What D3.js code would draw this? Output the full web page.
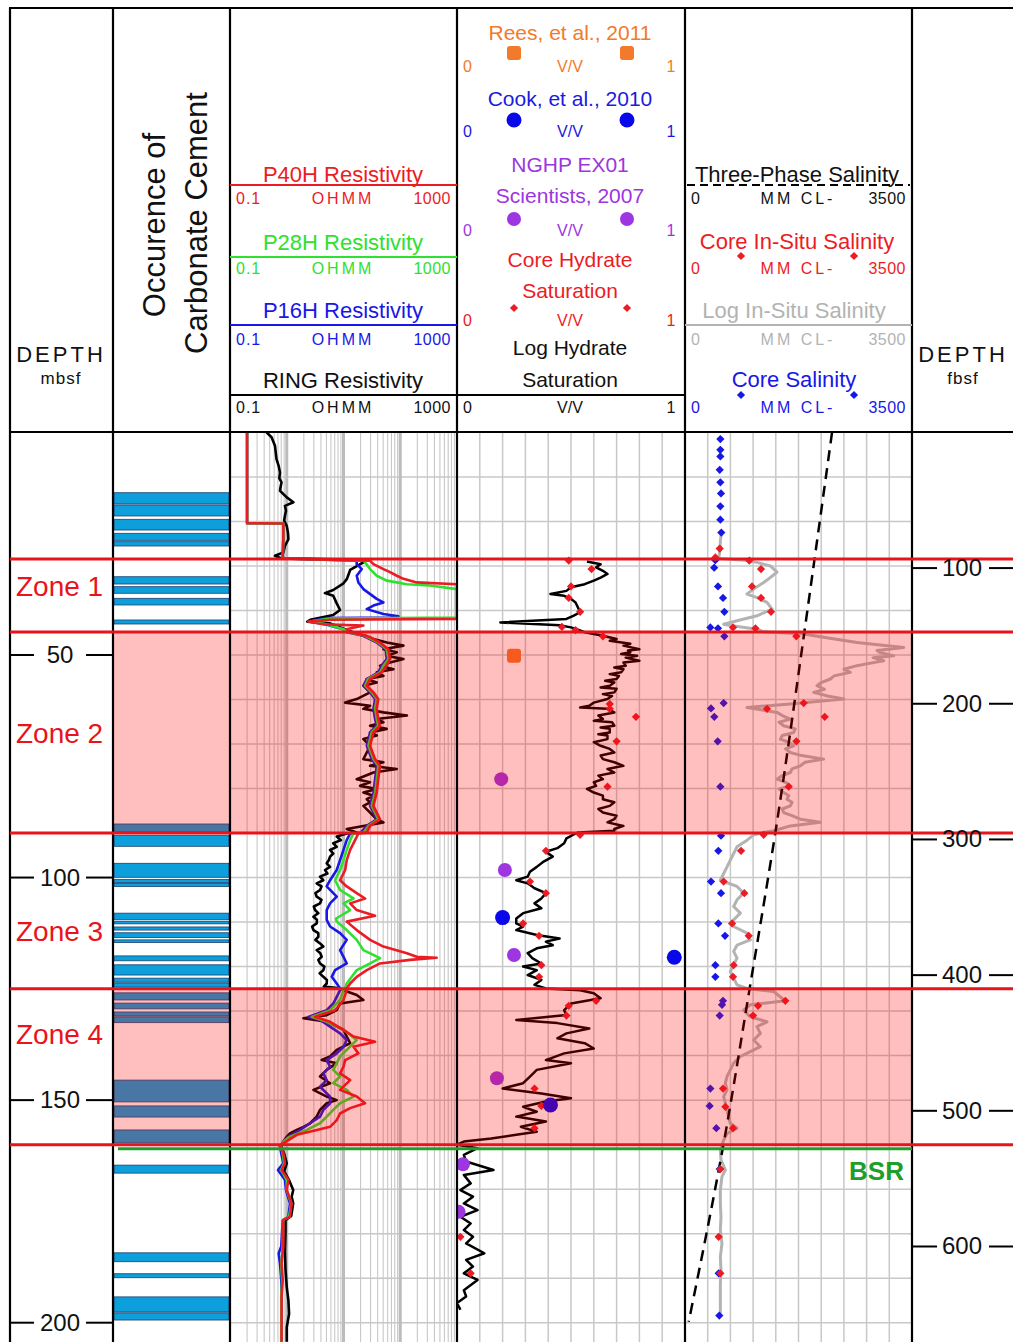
<!DOCTYPE html>
<html><head><meta charset="utf-8">
<script src="https://cdn.jsdelivr.net/npm/d3@7"></script>
<style>body{margin:0;background:#fff}svg{display:block}text{font-family:"Liberation Sans",Arial,sans-serif}</style>
</head><body><svg id="chart" width="1013" height="1342"></svg>
<script>
// ---------------- DATA ----------------
const zoneNames = ["Zone 1","Zone 2","Zone 3","Zone 4"];
const zoneTops = [28.44, 44.84, 89.97, 125.0];
const zoneBases = [44.84, 89.97, 125.0, 160.05];
const bsrDepth = 160.9;
const mbsfTicks = [50,100,150,200];
const fbsfTicks = [100,200,300,400,500,600];

const carbonateTop = [13.55,16.31,19.52,22.67,24.55,32.42,34.66,37.27,42.14,87.97,90.51,96.8,100.4,101.3,108.0,109.9,111.1,112.4,114.0,117.6,119.6,122.6,123.7,125.9,128.2,130.2,131.3,145.5,151.3,156.7,164.6,184.3,189.0,194.2,197.8];
const carbonateBase = [16.08,18.78,21.93,24.24,25.52,34.06,36.14,38.77,43.04,89.77,92.98,99.94,101.1,102.0,109.5,110.4,111.8,113.5,114.6,118.7,121.9,123.5,124.6,127.5,129.5,131.1,132.6,150.4,153.8,159.6,166.4,186.3,189.9,197.6,199.4];

// resistivity [depth m, ohm-m]
const ringRes = [[0,0.44],[1.1,0.54],[3.0,0.62],[6.0,0.66],[7.5,0.72],[9.0,0.76],[10.3,0.74],[11.2,0.81],[12.2,0.78],[13.1,0.76],[14.6,1.0],[15.7,1.31],[16.5,0.93],[17.6,0.97],[18.7,0.93],[19.8,0.9],[21.0,1.0],[22.5,1.05],[24.0,1.07],[25.5,0.93],[27.0,0.87],[27.7,0.62],[28.3,0.8],
[28.6,20],[29.2,22.4],[30.9,13.1],[32.9,11.5],[33.9,10],[35.4,6.6],[36.1,4.7],[36.7,6.6],[38.4,7.6],[39.9,8.7],[41.0,6.6],[42.1,2.6],[42.5,2.3],[42.9,5.8],[44.4,11.4],
[45.7,22.4],[46.4,33.7],[47.2,57.8],[47.9,114],[48.7,50.5],[49.4,87],[50.2,57.8],[50.9,114],[51.7,66],[52.4,44],[53.2,76],[53.9,38.5],[54.7,50.5],[55.4,25.7],[56.2,38.5],[56.9,22.4],[58.4,29.4],[59.9,17.1],[60.7,10.7],[61.4,29.4],[62.1,22.4],[62.9,50.5],[63.6,131],[64.4,38.5],[65.1,50.5],[65.9,29.4],[66.6,57.8],[67.4,29.4],[68.1,38.5],[68.9,22.4],[70.4,29.4],[71.9,25.7],[73.4,22.4],[74.1,50.5],[74.9,29.4],[75.6,87],[76.4,33.7],[77.9,17.1],[78.6,29.4],[79.4,19.6],[80.1,38.5],[80.9,22.4],[81.6,33.7],[82.4,25.7],[83.1,29.4],[83.9,22.4],[85.4,29.4],[86.9,38.5],[87.6,50.5],[88.4,22.4],[89.1,11.4],[89.9,17],
[90.1,11.4],[90.8,7.6],[91.6,9],[92.3,6.6],[93.1,7.6],[93.8,5.8],[94.6,6.6],[95.3,5.8],[96.1,5.5],[96.8,5.06],[97.6,5.8],[98.3,4.73],[99.1,5.2],[99.8,3.86],[100.6,4.4],[101.3,3.37],[102.0,4.1],[102.8,3.86],[103.5,3.2],[104.3,3.37],[105.0,4.1],[105.8,3.86],[106.5,3.0],[107.3,3.15],[108.0,3.6],[108.8,2.95],[109.5,3.4],[110.3,3.37],[111.0,2.8],[111.8,2.95],[112.5,3.6],[113.3,3.61],[114.0,3.2],[114.8,3.86],[115.5,4.4],[116.3,3.37],[117.0,3.9],[117.8,4.13],[118.5,3.6],[119.3,3.86],[120.0,4.6],[120.8,4.42],[121.5,3.8],[122.3,4.42],[123.0,5.1],[123.8,5.06],[124.5,4.5],[124.9,8.7],
[125.3,10],[126.4,17.1],[127.5,22.4],[128.3,8.7],[129.8,7.6],[130.9,5.06],[131.6,1.97],[132.4,5.06],[133.5,7.6],[134.2,10],[135.7,11.4],[137.2,13.1],[138.7,7.6],[140.2,5.8],[141.0,4.13],[141.7,7.6],[143.2,5.06],[144.7,3.86],[146.2,5.8],[147.7,2.95],[149.2,5.06],[150.0,7.6],[150.7,5.06],[152.2,3.86],[153.7,3.37],[155.2,2.58],[156.0,1.97],[156.7,1.5],[157.5,1.14],[158.2,1.0],[159.3,0.87],
[160.4,0.8],[162,0.9],[164.2,1.0],[166,0.9],[168,1.1],[170.2,1.3],[171.7,1.22],[173.2,1.3],[176,1.2],[177,0.95],[180,0.95],[184,0.93],[188,0.95],[192,1.0],[195,1.07],[198,1.1],[201,1.0],[204.3,1.0]];

const p16hRes = [[0,0.2],[20.4,0.2],[20.45,0.87],[24,0.87],[28.3,0.85],
[28.8,17],[29.6,17.1],[30.7,21],[32.2,17.1],[33.7,18.3],[35.2,22.4],[37.4,38.5],[38.2,50.5],[38.9,33.7],[39.7,25.7],[40.8,50.5],[41.3,93],[41.6,93],[41.7,5.06],[42.5,2.4],[43.1,4.73],[44.2,10],[44.9,11.4],
[45.7,22.4],[47.2,38.5],[48.7,55],[50.9,57.8],[52.4,47],[53.9,41],[55.4,25.7],[56.9,22.4],[58.4,29.4],[59.9,36],[62.1,33.7],[64.4,36],[65.9,38.5],[67.4,29.4],[70.4,25.7],[73.4,31.4],[74.9,38.5],[77.9,36],[80.9,33.7],[83.9,29.4],[85.4,33.7],[86.9,38.5],[88.4,25.7],[89.9,20],
[90.1,13.1],[91.6,11.4],[93.8,10],[96.1,8.7],[98.3,7.6],[100.6,5.8],[102.0,5.06],[104.3,7.6],[105.8,5.8],[107.3,5.06],[109.5,5.06],[111.0,5.8],[112.5,8.7],[114.0,11.4],[116.3,8.7],[117.8,10],[119.3,11.4],[120.8,7.1],[122.3,6.2],[123.8,7.6],[124.9,8.7],
[125.3,8.7],[126.8,7.6],[128.3,6.6],[129.8,5.06],[131.3,2.4],[132.0,3.86],[133.5,5.8],[135.0,8.7],[136.5,11.4],[138.0,10],[139.5,7.6],[141.0,5.06],[142.5,5.8],[144.0,4.42],[145.5,5.06],[147.0,3.86],[149.2,5.8],[150.7,5.8],[152.2,4.42],[153.7,3.86],[155.2,2.58],[156.7,1.72],[158.2,1.07],[159.3,0.87],
[160.4,0.76],[162,0.8],[164.2,0.87],[165.7,0.7],[167.9,0.93],[170.2,0.97],[173.2,1.14],[176.2,1.07],[177,0.85],[182.9,0.8],[184.4,0.72],[186.7,0.76],[190.4,0.8],[194.1,0.81],[204.3,0.8]];

const p28hRes = [[0,0.2],[20.4,0.2],[20.45,0.87],[24,0.87],[28.3,0.85],
[28.8,22.4],[29.2,24],[30.7,29.4],[32.2,38.5],[33.3,57.8],[34.1,131],[34.4,334],[35.2,1000],[41.6,1000],[41.8,5.8],[42.5,2.58],[43.1,5.06],[44.2,10],[44.9,12.2],
[45.7,24],[47.2,41],[48.7,57.8],[50.9,61.8],[52.4,50.5],[53.9,44],[55.4,27],[56.9,24],[58.4,31.4],[59.9,38.5],[62.1,36],[64.4,38.5],[65.9,41],[67.4,31.4],[70.4,27.5],[73.4,33.7],[74.9,41],[77.9,38.5],[80.9,36],[83.9,31.4],[85.4,36],[86.9,41],[88.4,27.5],[89.9,22.4],
[90.1,15],[91.6,13.1],[93.8,11.4],[96.1,10],[98.3,8.7],[100.6,7.1],[102.8,8.7],[104.7,15],[105.8,10],[107.3,13.1],[109.2,7.4],[109.9,7.6],[111.8,11.4],[114.0,17.1],[116.3,22.4],[118.1,44],[119.3,29.4],[120.8,17.1],[122.3,14],[123.8,11.4],[124.9,10.7],
[125.3,10],[127.5,8.7],[129.8,5.8],[131.3,2.75],[132.4,5.06],[134.2,10],[136.5,17.1],[138.7,11.4],[140.2,8.7],[141.7,7.6],[143.2,6.6],[144.7,8.7],[146.2,6.6],[147.7,11.4],[149.2,15],[150.7,8.7],[152.2,6.6],[153.7,5.06],[155.2,3.86],[156.7,2.25],[158.2,1.14],[159.3,0.87],
[160.4,0.78],[161.9,0.85],[164.2,0.9],[165.7,0.8],[167.9,1.0],[170.2,1.0],[173.2,1.2],[176.2,1.1],[176.9,0.86],[182.9,0.85],[186.7,0.8],[190.4,0.83],[194.1,0.8],[204.3,0.8]];

const p40hRes = [[0,0.2],[20.4,0.2],[20.45,0.87],[24,0.87],[27.7,0.85],[28.3,0.87],
[28.8,29.4],[29.6,33.7],[30.7,50.5],[31.4,66],[32.2,87],[32.9,114],[33.7,195],[34.1,1000],[41.9,1000],[42.1,5.8],[42.5,2.4],[43.1,4.4],[43.4,22.4],[44.2,11.4],[44.9,13.1],
[45.7,25.7],[46.0,29.4],[47.2,44],[48.7,61.8],[50.9,66],[52.4,57.8],[53.9,47],[55.4,29.4],[56.9,25.7],[58.4,33.7],[59.9,41],[62.1,38.5],[64.4,41],[65.9,44],[67.4,33.7],[70.4,29.4],[73.4,36],[74.9,44],[77.9,41],[80.9,38.5],[83.9,33.7],[85.4,38.5],[86.9,44],[88.4,29.4],[89.9,25.7],
[90.1,18.3],[91.6,16],[93.8,13.1],[96.1,11.4],[98.3,10.7],[100.6,8.7],[102.0,11.4],[103.5,17.1],[104.7,24],[105.8,13.1],[107.3,17.1],[108.6,36],[109.9,11.4],[111.8,17.1],[114.0,29.4],[115.5,50.5],[117.0,131],[117.8,195],[118.0,438],[118.5,149],[119.3,44],[120.8,25.7],[122.3,17.1],[123.8,13.1],[124.9,11.4],
[125.3,11.4],[127.5,10],[129.8,7.1],[131.3,3.15],[132.4,5.8],[134.2,10],[135.7,15],[136.9,36],[138.0,15],[139.5,18.3],[141.0,10.7],[142.5,10],[144.0,8.7],[145.5,13.1],[147.7,8.7],[149.2,17.1],[150.7,24],[151.8,13.1],[153.0,8.7],[154.5,7.6],[156.0,5.8],[156.7,3.4],[157.8,1.5],[159.0,1.07],[159.7,0.87],
[160.4,0.76],[161.9,0.87],[164.2,0.93],[165.7,0.81],[167.9,1.07],[170.2,1.0],[173.2,1.22],[176.2,1.14],[176.9,0.87],[179.2,0.87],[182.9,0.87],[186.7,0.81],[190.4,0.85],[194.1,0.81],[197.9,0.81],[204.3,0.81]];

// hydrate saturation [depth m, V/V]
const logHydrate = [[29.0,0.57],[29.6,0.63],[30.3,0.61],[31.1,0.64],[31.8,0.66],[32.6,0.63],[33.3,0.6],[34.1,0.56],[34.8,0.5],[35.6,0.48],[36.3,0.41],[36.7,0.47],[37.4,0.5],[38.2,0.52],[39.3,0.53],[40.4,0.54],[41.2,0.51],[41.9,0.48],[42.7,0.19],[43.3,0.45],[43.8,0.5],[44.3,0.53],[44.9,0.56],
[45.7,0.64],[46.4,0.70],[46.8,0.67],[47.5,0.76],[47.9,0.73],[48.7,0.80],[49.0,0.75],[49.4,0.76],[49.8,0.72],[50.2,0.79],[50.6,0.74],[51.3,0.80],[51.7,0.73],[52.4,0.74],[52.8,0.69],[53.2,0.73],[53.9,0.72],[54.3,0.67],[54.7,0.71],[55.4,0.70],[55.8,0.65],[56.2,0.69],[56.9,0.67],[57.3,0.63],[57.6,0.70],[58.4,0.69],[58.8,0.64],[59.2,0.68],[59.9,0.66],[60.7,0.6],[61.4,0.58],[61.8,0.54],[62.1,0.66],[62.9,0.69],[63.6,0.62],[64.4,0.64],[64.8,0.6],[65.1,0.68],[65.9,0.69],[66.3,0.63],[66.6,0.67],[67.4,0.67],[67.8,0.62],[68.1,0.66],[68.9,0.66],[69.6,0.6],[70.4,0.63],[71.1,0.67],[71.9,0.69],[72.6,0.63],[73.4,0.64],[74.1,0.69],[74.9,0.73],[75.6,0.66],[76.4,0.69],[77.1,0.62],[77.9,0.64],[78.6,0.6],[79.4,0.61],[80.1,0.57],[80.9,0.6],[81.6,0.64],[82.4,0.64],[83.1,0.69],[83.9,0.67],[84.6,0.62],[85.4,0.64],[86.1,0.70],[86.9,0.69],[87.6,0.66],[88.4,0.73],[89.1,0.69],[89.5,0.69],[89.9,0.53],
[90.1,0.52],[91.2,0.48],[92.3,0.47],[93.4,0.44],[94.2,0.39],[95.3,0.42],[96.4,0.38],[97.6,0.35],[98.7,0.32],[99.8,0.31],[100.6,0.26],[101.3,0.31],[102.4,0.34],[103.5,0.39],[104.7,0.37],[105.8,0.34],[106.9,0.37],[108.0,0.29],[109.2,0.26],[110.3,0.26],[111.0,0.29],[111.8,0.26],[112.9,0.35],[113.7,0.45],[114.4,0.39],[115.2,0.42],[115.9,0.35],[117.0,0.31],[118.1,0.33],[119.3,0.37],[120.0,0.29],[120.8,0.35],[121.9,0.31],[123.0,0.37],[124.1,0.34],[124.9,0.39],
[125.3,0.54],[126.0,0.6],[127.1,0.63],[128.3,0.5],[129.8,0.47],[130.9,0.48],[132.0,0.26],[132.7,0.44],[133.9,0.58],[135.0,0.48],[136.1,0.44],[137.2,0.56],[138.4,0.6],[139.5,0.47],[141.0,0.39],[141.7,0.5],[143.2,0.35],[144.7,0.32],[146.2,0.29],[147.4,0.2],[148.5,0.37],[149.6,0.5],[150.3,0.39],[151.5,0.29],[152.6,0.35],[153.7,0.26],[154.8,0.39],[156.0,0.28],[157.1,0.35],[157.8,0.26],[158.6,0.15],[159.3,0.03],[160.0,0.0],
[160.8,0.09],[162.3,0.03],[163.8,0.04],[165.7,0.16],[166.8,0.03],[168.7,0.06],[170.2,0.015],[171.7,0.07],[173.2,0.03],[174.7,0.09],[176.2,0.015],[177.7,0.06],[179.2,0.03],[180.7,0.07],[182.2,0.04],[184.4,0.12],[185.9,0.04],[187.4,0.07],[188.9,0.03],[190.4,0.09],[192.7,0.03],[194.1,0.04],[195.6,0.0],[197.1,0.015]];

const coreHydrate = [[28.8,0.49],[30.7,0.59],[34.6,0.5],[37.2,0.49],[40.3,0.54],[43.7,0.46],[44.4,0.52],[45.8,0.64],[61.0,0.67],[62.1,0.67],[63.9,0.785],[69.4,0.70],[79.6,0.66],[90.4,0.54],[94.0,0.39],[100.9,0.32],[103.5,0.39],[110.3,0.29],[113.1,0.36],[119.7,0.37],[122.3,0.36],[127.7,0.61],[128.8,0.49],[131.0,0.48],[147.4,0.34],[151.3,0.37],[156.3,0.34],[180.7,0.015],[188.9,0.06]];
const reesHydrate = [[50.2,0.25]];
const cookHydrate = [[109.0,0.2],[117.9,0.953],[151.1,0.41]];
const nghpHydrate = [[77.9,0.194],[98.3,0.21],[117.4,0.25],[145.1,0.175],[164.4,0.026],[175.1,0.007]];

// salinity [depth m, mM Cl-]
const coreSalinity = [[1.5,545],[3.9,545],[5.4,545],[8.4,535],[11.2,545],[13.7,555],[16.6,545],[19.6,545],[22.5,560],[28.7,468],[30.4,450],[34.6,509],[37.2,586],[40.3,607],[43.8,391],[44.0,509],[45.8,607],[60.8,596],[62.0,401],[63.9,452],[69.4,504],[79.6,545],[90.6,555],[94.0,514],[100.9,401],[103.5,555],[110.3,514],[113.1,617],[119.7,468],[122.3,468],[127.7,586],[128.6,571],[131.0,535],[147.4,391],[151.3,380],[156.3,483],[165.5,535],[188.9,519],[198.4,529]];
const coreInSitu = [[26.1,535],[28.1,468],[28.8,992],[30.7,1172],[34.6,1033],[37.2,1172],[40.3,1326],[43.8,740],[44.0,1085],[45.8,1717],[60.8,1830],[62.1,1264],[63.9,2154],[69.4,1717],[79.6,1599],[90.4,1213],[94.0,864],[100.9,596],[103.5,915],[110.3,725],[113.1,982],[119.7,750],[122.3,740],[127.7,1547],[128.8,1126],[131.0,1049],[147.4,586],[151.5,622],[156.3,740],[165.5,545],[180.7,519],[188.9,545]];
const logInSitu = [[22.5,560],[24.5,545],[26.5,540],[28.3,520],[28.8,950],[29.2,1110],[30.0,1316],[31.4,1419],[32.6,1316],[33.7,1213],[35.2,1059],[36.3,956],[37.1,1110],[38.2,1264],[39.7,1342],[41.2,1110],[42.3,802],[43.1,596],[43.4,699],[44.2,1110],[44.8,1213],
[45.3,1830],[46.0,2138],[47.2,2652],[48.3,3372],[49.0,2961],[49.4,3000],[50.2,3218],[50.6,2900],[51.3,3063],[52.0,2800],[52.4,2652],[53.2,2450],[53.9,2549],[54.7,2300],[55.4,2241],[56.2,2100],[56.9,2035],[57.7,2150],[58.4,1984],[59.2,2200],[59.9,2447],[61.0,1624],[61.8,956],[62.9,1419],[63.6,1500],[64.4,1624],[65.1,1450],[65.9,1521],[66.6,1700],[67.4,1676],[68.1,1500],[68.9,1470],[69.6,1600],[70.4,1676],[71.1,1550],[71.9,1624],[72.6,1800],[73.4,2138],[74.1,1850],[74.9,1778],[75.6,1650],[76.4,1624],[77.1,1500],[77.9,1419],[78.6,1550],[79.4,1624],[80.1,1450],[80.9,1521],[81.6,1600],[82.4,1573],[83.1,1650],[83.9,1624],[84.6,1500],[85.4,1521],[86.1,1650],[86.9,1778],[87.6,2087],[88.4,1624],[89.5,1367],
[89.9,1213],[90.4,1059],[91.6,956],[93.1,802],[94.6,750],[96.1,699],[97.6,648],[99.1,596],[100.6,545],[102.0,802],[103.5,905],[105.0,802],[106.5,750],[108.0,853],[109.5,750],[111.0,750],[112.5,956],[114.0,1007],[115.2,802],[116.6,750],[118.1,802],[119.6,750],[121.1,699],[122.6,750],[124.1,802],[124.9,956],
[125.6,1367],[126.8,1470],[127.7,1547],[128.6,1007],[129.8,905],[131.3,1007],[132.4,1264],[133.5,1110],[135.0,1162],[136.5,1059],[138.0,1162],[139.1,1007],[140.2,853],[141.7,750],[143.2,699],[144.7,648],[146.2,622],[147.7,648],[149.2,596],[150.7,622],[152.2,648],[153.7,673],[155.2,699],[156.3,802],[157.5,648],[159.0,596],[160.1,571],
[161.2,545],[163.4,555],[165.7,622],[167.2,570],[170.2,545],[173.2,545],[176.2,555],[179.2,545],[182.2,570],[185.2,545],[188.2,555],[191.2,545],[194.1,545],[197.9,545]];
const threePhase = [[0,2267],[28.8,1994],[44.9,1840],[89.9,1393],[124.9,997],[159.7,596],[199.8,57]];

// ---------------- DRAW ----------------
const svg = d3.select("#chart");
const TOP = 432, BOT = 1342;
const y = d3.scaleLinear().domain([0,200]).range([432.4,1322.7]);
const xRes = d3.scaleLog().domain([0.1,1000]).range([230,457]);
const xHyd = d3.scaleLinear().domain([0,1]).range([457,685]);
const xSal = d3.scaleLinear().domain([0,3500]).range([685,912]);
const COL = {red:"#ec1c24", green:"#2fe02f", blue:"#1818e6", orange:"#f27a2a", purple:"#9d35e0", gray:"#b3b3b3", bsr:"#1f9e2a"};

const defs = svg.append("defs");
function clip(id,x0,x1){ defs.append("clipPath").attr("id",id).append("rect").attr("x",x0).attr("y",TOP).attr("width",x1-x0).attr("height",BOT-TOP); }
clip("cRes",230,457); clip("cHyd",457,685); clip("cSal",685,912);

// grid
const gridC = "#c8c8c8";
const gGrid = svg.append("g");
const hDepths = d3.range(10,205,10);
[[230,457],[457,685],[685,912]].forEach(([a,b])=>{
  gGrid.append("g").selectAll("line").data(hDepths).join("line")
   .attr("x1",a).attr("x2",b).attr("y1",d=>y(d)).attr("y2",d=>y(d)).attr("stroke",gridC).attr("stroke-width",1.5);
});
const logLines=[];
[0.1,1,10,100].forEach(dec=>{ for(let k=1;k<=9;k++){ if(k===1&&dec===0.1) continue; logLines.push(k*dec);} });
gGrid.append("g").selectAll("line").data(logLines).join("line")
  .attr("x1",d=>xRes(d)).attr("x2",d=>xRes(d)).attr("y1",TOP).attr("y2",BOT)
  .attr("stroke",d=>[1,10,100].includes(d)?"#bcbcbc":gridC).attr("stroke-width",d=>[1,10,100].includes(d)?3:1.1);
gGrid.append("g").selectAll("line").data(d3.range(1,10).map(i=>i/10)).join("line")
  .attr("x1",d=>xHyd(d)).attr("x2",d=>xHyd(d)).attr("y1",TOP).attr("y2",BOT).attr("stroke",gridC).attr("stroke-width",1.5);
gGrid.append("g").selectAll("line").data(d3.range(1,10).map(i=>i*350)).join("line")
  .attr("x1",d=>xSal(d)).attr("x2",d=>xSal(d)).attr("y1",TOP).attr("y2",BOT).attr("stroke",gridC).attr("stroke-width",1.5);

// carbonate cement
svg.append("g").selectAll("rect").data(carbonateTop.map((t,i)=>[t,carbonateBase[i]])).join("rect")
  .attr("x",114).attr("width",115).attr("y",d=>y(d[0])).attr("height",d=>y(d[1])-y(d[0]))
  .attr("fill","#0c9fdc").attr("stroke","#1d416f").attr("stroke-width",0.8);

// resistivity curves
const lineRes = d3.line().x(d=>xRes(Math.max(0.1,Math.min(1000,d[1])))).y(d=>y(d[0]));
const gRes = svg.append("g").attr("clip-path","url(#cRes)");
[[ringRes,"#000"],[p16hRes,COL.blue],[p28hRes,COL.green],[p40hRes,COL.red]].forEach(([data,c])=>{
  gRes.append("path").datum(data).attr("d",lineRes).attr("fill","none").attr("stroke",c).attr("stroke-width",2.6).attr("stroke-linejoin","round");
});

// hydrate saturation
const gHyd = svg.append("g").attr("clip-path","url(#cHyd)");
gHyd.append("path").datum(logHydrate).attr("d",d3.line().x(d=>xHyd(d[1])).y(d=>y(d[0])))
  .attr("fill","none").attr("stroke","#000").attr("stroke-width",2.5).attr("stroke-linejoin","round");
const diamond = d3.symbol().type(d3.symbolSquare).size(34);
function diamonds(g,data,xs,color){
  g.append("g").selectAll("path").data(data).join("path").attr("d",diamond)
   .attr("transform",d=>`translate(${xs(d[1])},${y(d[0])}) rotate(45)`).attr("fill",color);
}
diamonds(gHyd,coreHydrate,xHyd,COL.red);
gHyd.append("g").selectAll("rect").data(reesHydrate).join("rect")
  .attr("x",d=>xHyd(d[1])-7).attr("y",d=>y(d[0])-7).attr("width",14).attr("height",14).attr("rx",3).attr("fill",COL.orange);
gHyd.append("g").selectAll("circle").data(nghpHydrate).join("circle")
  .attr("cx",d=>xHyd(d[1])).attr("cy",d=>y(d[0])).attr("r",7).attr("fill",COL.purple);
gHyd.append("g").selectAll("circle").data(cookHydrate).join("circle")
  .attr("cx",d=>xHyd(d[1])).attr("cy",d=>y(d[0])).attr("r",7.5).attr("fill","#0808ea");

// salinity
const gSal = svg.append("g").attr("clip-path","url(#cSal)");
const lineSal = d3.line().x(d=>xSal(d[1])).y(d=>y(d[0]));
gSal.append("path").datum(logInSitu).attr("d",lineSal).attr("fill","none").attr("stroke",COL.gray).attr("stroke-width",3).attr("stroke-linejoin","round");
gSal.append("path").datum(threePhase).attr("d",d3.line().curve(d3.curveMonotoneY).x(d=>xSal(d[1])).y(d=>y(d[0])))
  .attr("fill","none").attr("stroke","#000").attr("stroke-width",2.5).attr("stroke-dasharray","11,7");
diamonds(gSal,coreSalinity,xSal,COL.blue);
diamonds(gSal,coreInSitu,xSal,COL.red);

// hydrate zones overlay (zones 2 & 4)
svg.append("g").selectAll("rect").data([1,3]).join("rect")
  .attr("x",113).attr("width",912-113).attr("y",i=>y(zoneTops[i])).attr("height",i=>y(zoneBases[i])-y(zoneTops[i]))
  .attr("fill","rgba(255,0,0,0.25)");

// frame
const gF = svg.append("g").attr("stroke","#000").attr("stroke-width",2.2);
[10,113,230,457,685,912].forEach(x=>gF.append("line").attr("x1",x).attr("x2",x).attr("y1",8).attr("y2",BOT));
gF.append("line").attr("x1",9).attr("x2",1013).attr("y1",8).attr("y2",8);
gF.append("line").attr("x1",9).attr("x2",1013).attr("y1",TOP).attr("y2",TOP);

// BSR & zone lines
svg.append("line").attr("x1",118).attr("x2",912).attr("y1",y(bsrDepth)).attr("y2",y(bsrDepth)).attr("stroke",COL.bsr).attr("stroke-width",3);
const zoneLines = zoneTops.concat([zoneBases[zoneBases.length-1]]);
svg.append("g").selectAll("line").data(zoneLines).join("line")
  .attr("x1",10).attr("x2",1013).attr("y1",d=>y(d)).attr("y2",d=>y(d)).attr("stroke","#e8141c").attr("stroke-width",3);

// text helper
function T(x,yy,s,o={}){
  const t=svg.append("text").attr("x",x).attr("y",yy).text(s)
    .attr("font-size",o.size||22).attr("fill",o.fill||"#111").attr("text-anchor",o.anchor||"middle");
  if(o.ls) t.attr("letter-spacing",o.ls);
  if(o.weight) t.attr("font-weight",o.weight);
  return t;
}
function scaleRow(x0,xm,x1,yb,l,m,r,fill,mls){
  T(x0,yb,l,{anchor:"start",size:16,fill,ls:1});
  T(xm,yb,m,{size:16,fill,ls:mls===undefined?3:mls});
  T(x1,yb,r,{anchor:"end",size:16,fill,ls:0.5});
}
function hline(x0,x1,yy,c,dash){ const l=svg.append("line").attr("x1",x0).attr("x2",x1).attr("y1",yy).attr("y2",yy).attr("stroke",c).attr("stroke-width",2); if(dash) l.attr("stroke-dasharray",dash); }

// zone labels
const zoneLabelY = [586,733,931,1034];
zoneNames.forEach((n,i)=>T(16,zoneLabelY[i]+10,n,{anchor:"start",size:28,fill:"#e8141c"}));
T(904,1180,"BSR",{anchor:"end",size:26,fill:COL.bsr,weight:"bold"});

// depth axes
const gAx = svg.append("g");
mbsfTicks.forEach(d=>{
  gAx.append("line").attr("x1",11).attr("x2",34).attr("y1",y(d)).attr("y2",y(d)).attr("stroke","#000").attr("stroke-width",2);
  gAx.append("line").attr("x1",86).attr("x2",112).attr("y1",y(d)).attr("y2",y(d)).attr("stroke","#000").attr("stroke-width",2);
  T(60,y(d)+8,String(d),{size:24});
});
fbsfTicks.forEach(f=>{
  const yy=y(f/3.28084);
  gAx.append("line").attr("x1",913).attr("x2",937).attr("y1",yy).attr("y2",yy).attr("stroke","#000").attr("stroke-width",2);
  gAx.append("line").attr("x1",989).attr("x2",1013).attr("y1",yy).attr("y2",yy).attr("stroke","#000").attr("stroke-width",2);
  T(962,yy+8,String(f),{size:24});
});

// header: depth columns
T(61,362,"DEPTH",{size:22,ls:3});
T(61,384,"mbsf",{size:17,ls:1});
T(963,362,"DEPTH",{size:22,ls:3});
T(963,384,"fbsf",{size:17,ls:1});
// carbonate
svg.append("text").attr("transform","translate(165,225) rotate(-90)").attr("text-anchor","middle").attr("font-size",31).attr("fill","#111").text("Occurence of");
svg.append("text").attr("transform","translate(207,223) rotate(-90)").attr("text-anchor","middle").attr("font-size",31).attr("fill","#111").text("Carbonate Cement");

// resistivity header
T(343,182,"P40H Resistivity",{fill:COL.red}); hline(230,457,185,COL.red); scaleRow(236,343,451,204,"0.1","OHMM","1000",COL.red);
T(343,250,"P28H Resistivity",{fill:COL.green}); hline(230,457,257,COL.green); scaleRow(236,343,451,274,"0.1","OHMM","1000",COL.green);
T(343,318,"P16H Resistivity",{fill:COL.blue}); hline(230,457,325,COL.blue); scaleRow(236,343,451,345,"0.1","OHMM","1000",COL.blue);
T(343,388,"RING Resistivity",{fill:"#111"}); hline(230,457,395,"#000"); scaleRow(236,343,451,413,"0.1","OHMM","1000","#111");

// hydrate header
T(570,40,"Rees, et al., 2011",{size:21,fill:COL.orange});
[514,627].forEach(x=>svg.append("rect").attr("x",x-7).attr("y",46).attr("width",14).attr("height",14).attr("rx",3).attr("fill",COL.orange));
scaleRow(463,570,676,72,"0","V/V","1",COL.orange,0);
T(570,106,"Cook, et al., 2010",{size:21,fill:"#1a1ae0"});
[514,627].forEach(x=>svg.append("circle").attr("cx",x).attr("cy",120).attr("r",7.5).attr("fill","#0808ea"));
scaleRow(463,570,676,137,"0","V/V","1","#1a1ae0",0);
T(570,172,"NGHP EX01",{size:21,fill:COL.purple});
T(570,203,"Scientists, 2007",{size:21,fill:COL.purple});
[514,627].forEach(x=>svg.append("circle").attr("cx",x).attr("cy",219).attr("r",7).attr("fill",COL.purple));
scaleRow(463,570,676,236,"0","V/V","1",COL.purple,0);
T(570,267,"Core Hydrate",{size:21,fill:COL.red});
T(570,298,"Saturation",{size:21,fill:COL.red});
[514,627].forEach(x=>svg.append("path").attr("d",diamond).attr("transform",`translate(${x},308) rotate(45)`).attr("fill",COL.red));
scaleRow(463,570,676,326,"0","V/V","1",COL.red,0);
T(570,355,"Log Hydrate",{size:21,fill:"#111"});
T(570,387,"Saturation",{size:21,fill:"#111"});
hline(457,685,395,"#000");
scaleRow(463,570,676,413,"0","V/V","1","#111",0);

// salinity header
T(797,182,"Three-Phase Salinity",{size:22,fill:"#111"}); hline(687,910,185,"#000","8,5");
scaleRow(691,798,906,204,"0","MM CL-","3500","#111");
T(797,249,"Core In-Situ Salinity",{size:22,fill:COL.red});
[741,854].forEach(x=>svg.append("path").attr("d",diamond).attr("transform",`translate(${x},256) rotate(45)`).attr("fill",COL.red));
scaleRow(691,798,906,274,"0","MM CL-","3500",COL.red);
T(794,318,"Log In-Situ Salinity",{size:22,fill:COL.gray}); hline(685,912,325,COL.gray);
scaleRow(691,798,906,345,"0","MM CL-","3500",COL.gray);
T(794,387,"Core Salinity",{size:22,fill:COL.blue});
[741,854].forEach(x=>svg.append("path").attr("d",diamond).attr("transform",`translate(${x},395) rotate(45)`).attr("fill",COL.blue));
scaleRow(691,798,906,413,"0","MM CL-","3500",COL.blue);
</script></body></html>
